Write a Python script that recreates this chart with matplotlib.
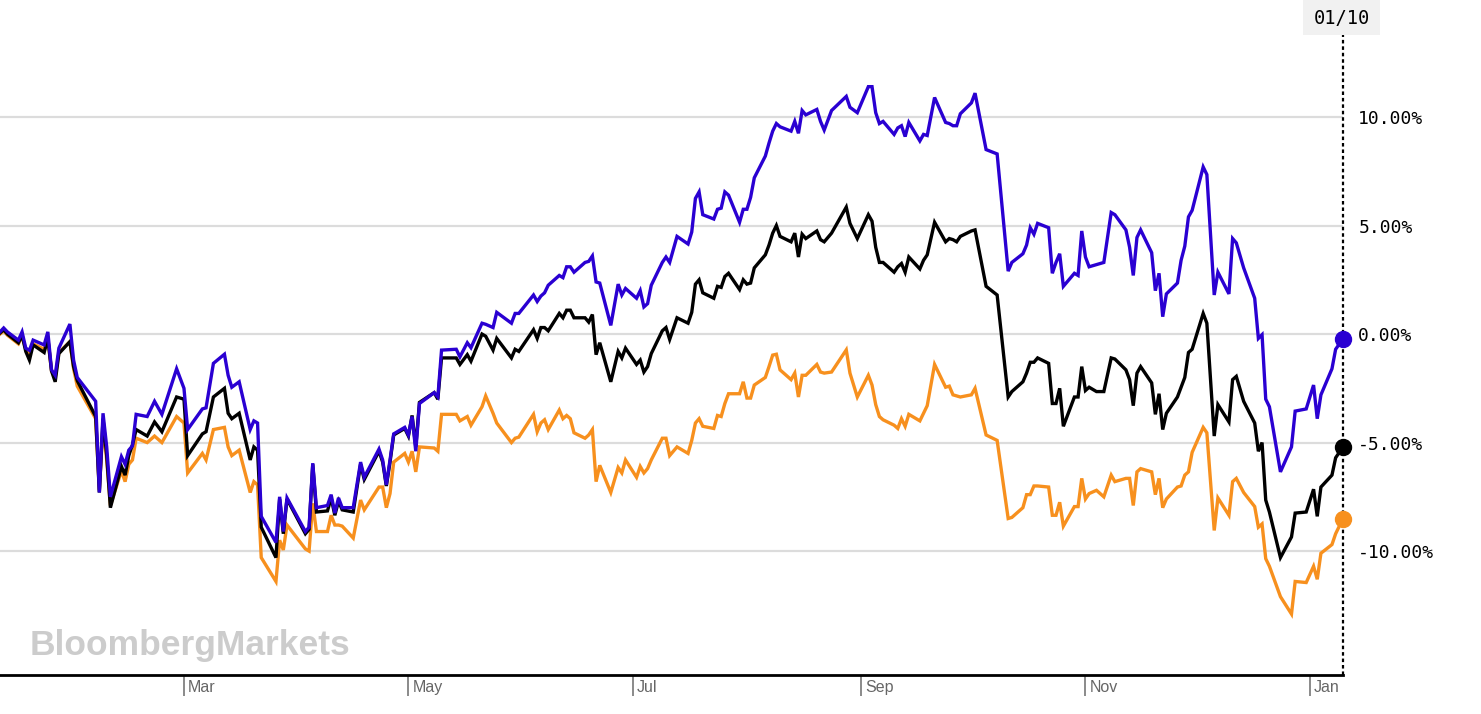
import matplotlib
matplotlib.use('Agg')
import matplotlib.pyplot as plt
import matplotlib.transforms as mtransforms
from matplotlib.patches import Rectangle
import pandas as pd

# ---------------- data ----------------
date_strings = [
    "2018-01-10", "2018-01-11", "2018-01-12", "2018-01-15", "2018-01-16", "2018-01-17", "2018-01-18", "2018-01-19", "2018-01-22", "2018-01-23",
    "2018-01-24", "2018-01-25", "2018-01-26", "2018-01-29", "2018-01-30", "2018-01-31", "2018-02-05", "2018-02-06", "2018-02-07", "2018-02-08",
    "2018-02-09", "2018-02-12", "2018-02-13", "2018-02-14", "2018-02-15", "2018-02-16", "2018-02-19", "2018-02-21", "2018-02-23", "2018-02-27",
    "2018-03-01", "2018-03-02", "2018-03-06", "2018-03-07", "2018-03-09", "2018-03-12", "2018-03-13", "2018-03-14", "2018-03-16", "2018-03-19",
    "2018-03-20", "2018-03-21", "2018-03-22", "2018-03-26", "2018-03-27", "2018-03-28", "2018-03-29", "2018-04-03", "2018-04-04", "2018-04-05",
    "2018-04-06", "2018-04-09", "2018-04-10", "2018-04-11", "2018-04-12", "2018-04-13", "2018-04-16", "2018-04-18", "2018-04-19", "2018-04-23",
    "2018-04-24", "2018-04-25", "2018-04-26", "2018-04-27", "2018-04-30", "2018-05-01", "2018-05-02", "2018-05-03", "2018-05-04", "2018-05-08",
    "2018-05-09", "2018-05-10", "2018-05-14", "2018-05-15", "2018-05-17", "2018-05-18", "2018-05-21", "2018-05-22", "2018-05-24", "2018-05-25",
    "2018-05-29", "2018-05-30", "2018-05-31", "2018-06-04", "2018-06-05", "2018-06-06", "2018-06-07", "2018-06-08", "2018-06-11", "2018-06-12",
    "2018-06-13", "2018-06-14", "2018-06-15", "2018-06-18", "2018-06-19", "2018-06-20", "2018-06-21", "2018-06-22", "2018-06-25", "2018-06-27",
    "2018-06-28", "2018-06-29", "2018-07-02", "2018-07-03", "2018-07-04", "2018-07-05", "2018-07-06", "2018-07-09", "2018-07-10", "2018-07-11",
    "2018-07-13", "2018-07-16", "2018-07-17", "2018-07-18", "2018-07-19", "2018-07-20", "2018-07-23", "2018-07-24", "2018-07-25", "2018-07-26",
    "2018-07-27", "2018-07-30", "2018-07-31", "2018-08-01", "2018-08-02", "2018-08-03", "2018-08-06", "2018-08-07", "2018-08-08", "2018-08-09",
    "2018-08-10", "2018-08-13", "2018-08-14", "2018-08-15", "2018-08-16", "2018-08-17", "2018-08-20", "2018-08-21", "2018-08-22", "2018-08-24",
    "2018-08-28", "2018-08-29", "2018-08-31", "2018-09-03", "2018-09-04", "2018-09-05", "2018-09-06", "2018-09-07", "2018-09-10", "2018-09-11",
    "2018-09-12", "2018-09-13", "2018-09-14", "2018-09-17", "2018-09-18", "2018-09-19", "2018-09-21", "2018-09-24", "2018-09-25", "2018-09-26",
    "2018-09-27", "2018-09-28", "2018-10-01", "2018-10-02", "2018-10-05", "2018-10-08", "2018-10-11", "2018-10-12", "2018-10-15", "2018-10-16",
    "2018-10-17", "2018-10-18", "2018-10-19", "2018-10-22", "2018-10-23", "2018-10-24", "2018-10-25", "2018-10-26", "2018-10-29", "2018-10-30",
    "2018-10-31", "2018-11-01", "2018-11-02", "2018-11-04", "2018-11-06", "2018-11-08", "2018-11-09", "2018-11-12", "2018-11-13", "2018-11-14",
    "2018-11-15", "2018-11-16", "2018-11-19", "2018-11-20", "2018-11-21", "2018-11-22", "2018-11-23", "2018-11-26", "2018-11-27", "2018-11-28",
    "2018-11-29", "2018-11-30", "2018-12-03", "2018-12-04", "2018-12-06", "2018-12-07", "2018-12-10", "2018-12-11", "2018-12-12", "2018-12-14",
    "2018-12-17", "2018-12-18", "2018-12-19", "2018-12-20", "2018-12-21", "2018-12-24", "2018-12-27", "2018-12-28", "2018-12-31", "2019-01-02",
    "2019-01-03", "2019-01-04", "2019-01-07", "2019-01-08", "2019-01-10",
]

blue_series = [
    0.1, 0.28, 0.1, -0.28, 0.1, -0.65, -0.75, -0.28, -0.5, 0.1,
    -1.65, -1.9, -0.65, 0.46, -1.2, -2.0, -3.1, -7.3, -3.65, -5.2,
    -7.5, -5.65, -6.0, -5.35, -5.15, -3.7, -3.8, -3.1, -3.7, -1.6,
    -2.5, -4.4, -3.45, -3.4, -1.35, -0.93, -1.9, -2.45, -2.2, -4.4,
    -4.0, -4.1, -8.4, -9.6, -7.5, -9.1, -7.55, -9.1, -8.9, -5.95,
    -8.0, -7.9, -7.4, -8.25, -7.55, -8.0, -8.0, -5.9, -6.6, -5.3,
    -5.8, -6.95, -5.8, -4.6, -4.3, -4.65, -3.8, -5.4, -3.2, -2.7,
    -2.9, -0.74, -0.7, -1.05, -0.4, -0.63, 0.5, 0.45, 0.3, 1.0,
    0.5, 0.95, 0.95, 1.8, 1.5, 1.75, 1.9, 2.25, 2.7, 2.6,
    3.1, 3.1, 2.85, 3.3, 3.35, 3.6, 2.4, 2.35, 0.4, 2.3,
    1.8, 2.1, 1.65, 2.0, 1.25, 1.4, 2.25, 3.3, 3.55, 3.3,
    4.5, 4.15, 4.7, 6.25, 6.55, 5.5, 5.3, 5.75, 5.8, 6.55,
    6.4, 5.15, 5.75, 5.75, 6.3, 7.2, 8.2, 8.8, 9.35, 9.7,
    9.55, 9.35, 9.8, 9.25, 10.3, 10.1, 10.35, 9.8, 9.4, 10.3,
    10.95, 10.45, 10.2, 11.4, 11.4, 10.2, 9.7, 9.8, 9.2, 9.5,
    9.6, 9.1, 9.75, 8.9, 9.2, 9.15, 10.9, 9.75, 9.7, 9.6,
    9.6, 10.15, 10.65, 11.1, 8.5, 8.3, 2.9, 3.3, 3.7, 4.1,
    4.9, 4.6, 5.1, 4.9, 2.8, 3.3, 3.7, 2.2, 2.8, 2.7,
    4.75, 3.55, 3.1, 3.2, 3.3, 5.6, 5.5, 4.8, 4.0, 2.7,
    4.45, 4.8, 3.75, 2.0, 2.8, 0.8, 1.85, 2.35, 3.4, 4.05,
    5.4, 5.7, 7.7, 7.35, 1.8, 2.85, 1.85, 4.4, 4.2, 3.05,
    1.65, -0.2, -0.03, -3.0, -3.35, -6.35, -5.2, -3.55, -3.45, -2.35,
    -3.9, -2.8, -1.6, -0.7, -0.22,
]

black_series = [
    0.05, 0.2, 0.0, -0.4, -0.05, -0.8, -1.2, -0.5, -0.85, -0.2,
    -1.7, -2.2, -0.9, -0.35, -1.5, -2.15, -3.8, -7.3, -3.9, -5.6,
    -8.0, -6.1, -6.5, -5.6, -5.1, -4.4, -4.7, -4.05, -4.5, -2.9,
    -3.0, -5.6, -4.6, -4.5, -2.9, -2.5, -3.65, -3.9, -3.65, -5.8,
    -5.2, -5.35, -8.9, -10.3, -7.6, -9.2, -7.6, -9.2, -9.0, -6.0,
    -8.2, -8.15, -7.55, -8.35, -7.7, -8.1, -8.2, -6.0, -6.7, -5.4,
    -5.9, -7.0, -5.9, -4.65, -4.35, -4.7, -3.75, -5.2, -3.15, -2.7,
    -3.0, -1.1, -1.1, -1.4, -0.95, -1.25, 0.0, -0.1, -0.74, -0.2,
    -1.1, -0.7, -0.8, 0.2, -0.2, 0.3, 0.3, 0.15, 0.95, 0.75,
    1.1, 1.1, 0.75, 0.75, 0.55, 0.9, -0.95, -0.4, -2.2, -0.8,
    -1.1, -0.65, -1.4, -1.2, -1.75, -1.5, -0.9, 0.15, 0.3, -0.25,
    0.75, 0.5, 1.0, 2.3, 2.5, 1.9, 1.65, 2.2, 2.15, 2.65,
    2.8, 2.05, 2.5, 2.3, 2.35, 3.05, 3.65, 4.1, 4.65, 5.0,
    4.5, 4.25, 4.65, 3.55, 4.6, 4.4, 4.75, 4.35, 4.25, 4.65,
    5.85, 5.1, 4.4, 5.5, 5.2, 4.0, 3.3, 3.3, 2.85, 3.1,
    3.25, 2.85, 3.55, 3.0, 3.4, 3.65, 5.15, 4.25, 4.4, 4.35,
    4.25, 4.5, 4.75, 4.8, 2.2, 1.8, -2.9, -2.65, -2.2, -1.8,
    -1.3, -1.3, -1.1, -1.35, -3.2, -3.2, -2.5, -4.25, -2.9, -2.9,
    -1.5, -2.6, -2.45, -2.65, -2.65, -1.1, -1.15, -1.65, -2.1, -3.3,
    -1.8, -1.5, -2.25, -3.7, -2.75, -4.4, -3.65, -2.9, -2.45, -2.0,
    -0.85, -0.7, 0.95, 0.5, -4.7, -3.25, -4.05, -2.1, -1.95, -3.1,
    -4.1, -5.4, -5.0, -7.65, -8.2, -10.3, -9.35, -8.25, -8.2, -7.15,
    -8.4, -7.05, -6.5, -5.7, -5.2,
]

orange_series = [
    0.0, 0.15, -0.05, -0.45, -0.1, -0.7, -0.95, -0.45, -0.7, -0.15,
    -1.7, -2.0, -0.85, -0.35, -1.6, -2.4, -3.9, -7.2, -4.2, -5.8,
    -7.9, -6.3, -6.8, -6.0, -5.8, -4.8, -5.0, -4.7, -5.0, -3.8,
    -4.1, -6.4, -5.5, -5.8, -4.4, -4.3, -5.2, -5.6, -5.35, -7.3,
    -6.8, -6.95, -10.3, -11.4, -9.5, -9.95, -8.8, -9.9, -10.0, -7.8,
    -9.1, -9.1, -8.35, -8.8, -8.8, -8.85, -9.4, -7.65, -8.1, -7.05,
    -7.05, -8.0, -7.35, -5.9, -5.5, -5.9, -5.4, -6.35, -5.2, -5.25,
    -5.4, -3.7, -3.7, -4.0, -3.8, -4.2, -3.35, -2.85, -3.65, -4.1,
    -5.0, -4.8, -4.75, -3.7, -4.5, -4.1, -3.95, -4.4, -3.5, -3.9,
    -3.75, -3.9, -4.55, -4.8, -4.65, -4.4, -6.8, -6.05, -7.3, -6.15,
    -6.4, -5.8, -6.6, -6.1, -6.4, -6.2, -5.8, -4.8, -4.8, -5.6,
    -5.2, -5.5, -4.9, -4.1, -3.9, -4.25, -4.35, -3.75, -3.8, -3.2,
    -2.75, -2.75, -2.2, -2.95, -2.95, -2.35, -2.0, -1.5, -0.97, -0.93,
    -1.65, -2.1, -1.8, -2.9, -1.9, -1.9, -1.4, -1.75, -1.8, -1.75,
    -0.73, -1.8, -2.9, -1.9, -2.35, -3.25, -3.8, -3.95, -4.2, -4.35,
    -3.9, -4.25, -3.7, -4.0, -3.65, -3.3, -1.4, -2.45, -2.4, -2.8,
    -2.85, -2.9, -2.8, -2.5, -4.65, -4.9, -8.5, -8.45, -8.0, -7.4,
    -7.4, -7.0, -7.0, -7.05, -8.35, -8.35, -7.75, -8.85, -7.95, -7.95,
    -6.65, -7.6, -7.35, -7.2, -7.5, -6.5, -6.8, -6.65, -6.65, -7.9,
    -6.35, -6.2, -6.35, -7.4, -6.65, -8.0, -7.6, -7.05, -7.0, -6.5,
    -6.35, -5.45, -4.3, -4.55, -9.05, -7.55, -8.35, -6.8, -6.65, -7.3,
    -7.95, -8.9, -8.75, -10.35, -10.7, -12.1, -12.9, -11.4, -11.45, -10.7,
    -11.3, -10.1, -9.7, -9.2, -8.5,
]

y_ticks = [-10, -5, 0, 5, 10]
month_ticks = ["2018-03-01", "2018-05-01", "2018-07-01", "2018-09-01", "2018-11-01", "2019-01-01"]
month_labels = ["Mar", "May", "Jul", "Sep", "Nov", "Jan"]
watermark = "BloombergMarkets"

assert len(date_strings) == len(blue_series) == len(black_series) == len(orange_series)

# ---------------- style ----------------
BLUE = "#2a00d2"
BLACK = "#000000"
ORANGE = "#f7901e"
W, H = 1481, 714

dates = pd.to_datetime(date_strings)

fig = plt.figure(figsize=(W / 100, H / 100), dpi=100)
fig.patch.set_facecolor("white")
ax = fig.add_axes([0, 39 / H, 1343 / W, (675 - 35) / H])

for series, color in ((orange_series, ORANGE), (black_series, BLACK), (blue_series, BLUE)):
    ax.plot(dates, series, color=color, lw=2.4, solid_joinstyle="miter", zorder=3)
    ax.plot(dates[-1], series[-1], "o", ms=11.5, color=color, zorder=4, clip_on=False)

ax.set_xlim(dates[0], dates[-1])
ax.set_ylim(-15.71, 13.78)

# y axis on the right
ax.set_yticks(y_ticks)
ax.set_yticklabels([f"{v:.2f}%" for v in y_ticks], fontfamily="DejaVu Sans Mono", fontsize=13)
ax.yaxis.tick_right()
ax.tick_params(axis="y", length=0, pad=11, labelcolor="black")
ax.grid(axis="y", color="#dcdcdc", lw=1.6)
ax.set_axisbelow(True)

for s in ("left", "right", "top"):
    ax.spines[s].set_visible(False)
ax.spines["bottom"].set_linewidth(2.0)
ax.spines["bottom"].set_color("black")

# month ticks with labels to the right of each tick
mt = pd.to_datetime(month_ticks)
ax.set_xticks(mt)
ax.set_xticklabels([""] * len(mt))
ax.tick_params(axis="x", direction="out", length=15, width=1.4, color="#8a8a8a")
lab_tr = mtransforms.offset_copy(ax.get_xaxis_transform(), fig=fig, x=4, y=-5, units="dots")
for d, lab in zip(mt, month_labels):
    ax.text(d, 0, lab, transform=lab_tr, ha="left", va="top", fontsize=11.5,
            color="#666666", fontfamily="Liberation Sans")

# dotted cursor line at the last date
ax.axvline(dates[-1], color="black", lw=1.6, linestyle=(0, (1.6, 1.3)), zorder=2, clip_on=False)

# date label box at the top
fig.patches.append(Rectangle((1303 / W, (H - 35) / H), 77 / W, 35 / H, transform=fig.transFigure,
                             facecolor="#f1f1f1", edgecolor="none", zorder=0))
fig.text(1342 / W, (H - 18) / H, dates[-1].strftime("%m/%d"), ha="center", va="center",
         fontsize=13.5, fontfamily="DejaVu Sans Mono", color="black")

# watermark
fig.text(30 / W, (H - 655) / H, watermark, ha="left", va="baseline", fontsize=25.5,
         fontweight="bold", color="#cccccc", fontfamily="Liberation Sans")

fig.savefig("out.png", dpi=100, facecolor="white")
